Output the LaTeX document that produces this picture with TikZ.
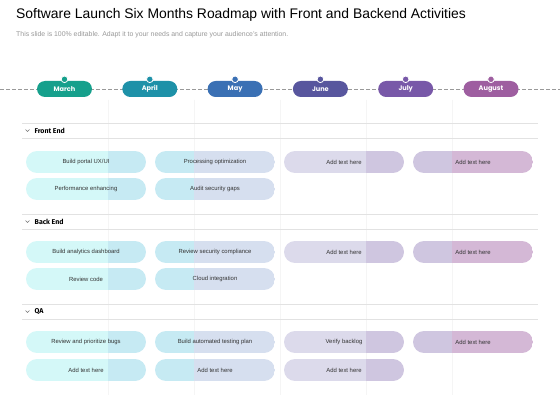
\documentclass[tikz,border=0pt]{standalone}
\usepackage{fontspec}
\setmainfont{Liberation Sans}
\newfontfamily\monthfont{Poppins}
\newfontfamily\headfont{Fira Sans}
\usetikzlibrary{calc}
\definecolor{marchc}{RGB}{22,160,140}
\definecolor{aprilc}{RGB}{30,145,168}
\definecolor{mayc}{RGB}{58,112,180}
\definecolor{junec}{RGB}{88,86,158}
\definecolor{julyc}{RGB}{120,88,168}
\definecolor{augc}{RGB}{158,94,160}
\definecolor{bandA}{RGB}{212,248,248}
\definecolor{bandB}{RGB}{198,234,243}
\definecolor{bandC}{RGB}{214,223,239}
\definecolor{bandD}{RGB}{220,218,235}
\definecolor{bandE}{RGB}{207,198,224}
\definecolor{bandF}{RGB}{212,184,214}
\definecolor{rulegray}{RGB}{226,226,226}
\definecolor{gridgray}{RGB}{245,245,245}

% pill split in two tints at a month border
\newcommand{\taskpill}[7]{%
  \begin{scope}
    \clip[rounded corners=11pt] (#2-60,#3-11) rectangle (#2+60,#3+11);
    \fill[#5] (#2-60,#3-11) rectangle (#4,#3+11);
    \fill[#6] (#4,#3-11) rectangle (#2+60,#3+11);
  \end{scope}
  \node[tasktext] (#1) at (#2,#3) {#7};}

\begin{document}
\begin{tikzpicture}[x=1pt,y=-1pt,
  monthpill/.style={rounded corners=8pt,minimum width=55pt,minimum height=16pt,
    inner sep=0pt,text=white,font=\monthfont\bfseries\fontsize{6.6}{7}\selectfont},
  tasktext/.style={text=black!80,font=\fontsize{5.9}{6.5}\selectfont,inner sep=0pt},
  sechead/.style={anchor=west,font=\headfont\bfseries\fontsize{7}{8}\selectfont,inner sep=0pt}]
  \useasboundingbox (0,0) rectangle (560,420);
  \fill[white] (0,0) rectangle (560,420);

  % title
  \node[anchor=base west,inner sep=0pt,font=\fontsize{13.9}{16}\selectfont] (title) at (16,19)
    {Software Launch Six Months Roadmap with Front and Backend Activities};
  \node[anchor=base west,inner sep=0pt,text=black!40,font=\fontsize{6.9}{8}\selectfont] (sub) at (16,36.5)
    {This slide is 100\% editable. Adapt it to your needs and capture your audience's attention.};

  % month grid
  \foreach \gx in {108,194,280,366,452}
    \draw[gridgray,line width=0.6pt] (\gx,100) -- (\gx,395);

  % timeline
  \draw[black!40,dash pattern=on 4pt off 2pt,line width=0.7pt] (0,89) -- (560,89);
  \foreach \m/\c [count=\i] in {March/marchc,April/aprilc,May/mayc,June/junec,July/julyc,August/augc} {
    \node[monthpill,fill=\c] (m\i) at ({64.5+85.3*(\i-1)},89) {\m};
    \filldraw[fill=\c,draw=white,line width=0.8pt] ($(m\i.north)+(0,-1.5)$) circle (3.3);
  }

  % sections
  \foreach \y/\t [count=\k] in {123/Front End,214/Back End,304/QA} {
    \draw[rulegray,line width=0.7pt] (22,\y) -- (538,\y);
    \draw[rulegray,line width=0.7pt] (22,\y+15) -- (538,\y+15);
    \draw[black!55,line width=0.5pt] (25.5,\y+6.5) -- (27.5,\y+8.5) -- (29.5,\y+6.5);
    \node[sechead] (s\k) at (34.5,\y+7.5) {\t};
  }

  % Front End
  \taskpill{fe1}{86}{162}{108}{bandA}{bandB}{Build portal UX/UI}
  \taskpill{fe2}{215}{162}{194}{bandB}{bandC}{Processing optimization}
  \taskpill{fe3}{344}{162}{366}{bandD}{bandE}{Add text here}
  \taskpill{fe4}{473}{162}{452}{bandE}{bandF}{Add text here}
  \taskpill{fe5}{86}{189}{108}{bandA}{bandB}{Performance enhancing}
  \taskpill{fe6}{215}{189}{194}{bandB}{bandC}{Audit security gaps}

  % Back End
  \taskpill{be1}{86}{252}{108}{bandA}{bandB}{Build analytics dashboard}
  \taskpill{be2}{215}{252}{194}{bandB}{bandC}{Review security compliance}
  \taskpill{be3}{344}{252}{366}{bandD}{bandE}{Add text here}
  \taskpill{be4}{473}{252}{452}{bandE}{bandF}{Add text here}
  \taskpill{be5}{86}{279}{108}{bandA}{bandB}{Review code}
  \taskpill{be6}{215}{279}{194}{bandB}{bandC}{Cloud integration}

  % QA
  \taskpill{qa1}{86}{342}{108}{bandA}{bandB}{Review and prioritize bugs}
  \taskpill{qa2}{215}{342}{194}{bandB}{bandC}{Build automated testing plan}
  \taskpill{qa3}{344}{342}{366}{bandD}{bandE}{Verify backlog}
  \taskpill{qa4}{473}{342}{452}{bandE}{bandF}{Add text here}
  \taskpill{qa5}{86}{370}{108}{bandA}{bandB}{Add text here}
  \taskpill{qa6}{215}{370}{194}{bandB}{bandC}{Add text here}
  \taskpill{qa7}{344}{370}{366}{bandD}{bandE}{Add text here}
\end{tikzpicture}
\end{document}
